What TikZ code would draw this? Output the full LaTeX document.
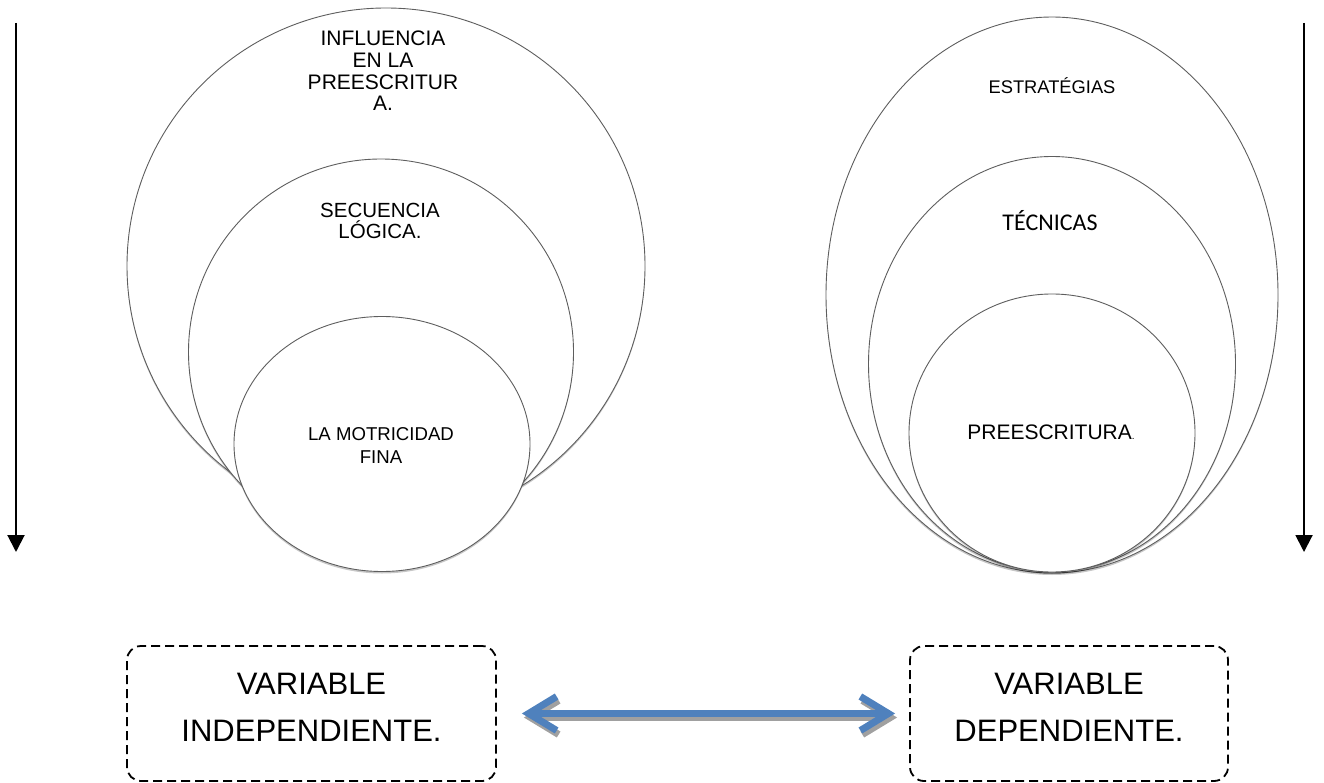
\documentclass[tikz,border=0pt]{standalone}
\usepackage{fontspec}
\setmainfont{Liberation Sans}
\newfontfamily\carlitofont{Carlito}
\usetikzlibrary{shapes.geometric,arrows.meta,shadows}
\definecolor{ringline}{HTML}{5E5E5E}
\definecolor{arrowblue}{HTML}{4F81BD}
\definecolor{arrowshade}{HTML}{A0A0A0}
\tikzset{
  ring/.style={ellipse, draw=ringline, line width=0.9pt, fill=white, inner sep=0pt,
    drop shadow={shadow xshift=0pt, shadow yshift=-2pt, opacity=0.22, fill=black}},
  lbl/.style={align=center, inner sep=0pt, text=black},
  vbox/.style={draw=black, line width=1.8pt, dash pattern=on 9pt off 5pt, rounded corners=14pt,
    align=center, inner sep=0pt, font=\fontsize{31}{47}\selectfont},
  sidearrow/.style={draw=black, line width=2pt, -{Triangle[length=17pt, width=17pt]}},
  dblarrow/.style={line width=7pt, {Straight Barb[length=28pt, width=34pt]}-{Straight Barb[length=28pt, width=34pt]}}
}
\begin{document}
\begin{tikzpicture}[x=1pt,y=-1pt]
\useasboundingbox (0,0) rectangle (1324,783);

% side arrows
\coordinate (la1) at (16,23);
\coordinate (la2) at (16,552);
\coordinate (ra1) at (1304,23);
\coordinate (ra2) at (1304,552);
\draw[sidearrow] (la1) -- (la2);
\draw[sidearrow] (ra1) -- (ra2);

% left group
\node[ring, minimum width=518pt, minimum height=516pt] (lo) at (386,266) {};
\node[ring, minimum width=385pt, minimum height=386pt] (lm) at (381,352) {};
\node[ring, minimum width=296pt, minimum height=255pt] (ls) at (382,444) {};
\node[lbl, font=\fontsize{21}{21.7}\selectfont] (tlo) at (383,71) {INFLUENCIA\\EN LA\\PREESCRITUR\\A.};
\node[lbl, font=\fontsize{20.5}{21.5}\selectfont] (tlm) at (380,221) {SECUENCIA\\LÓGICA.};
\node[lbl, font=\fontsize{18.6}{23}\selectfont] (tls) at (381,446) {LA MOTRICIDAD\\FINA};

% right group
\node[ring, minimum width=452pt, minimum height=556pt] (ro) at (1052,295) {};
\node[ring, minimum width=367pt, minimum height=415pt] (rm) at (1052,364) {};
\node[ring, minimum width=286pt, minimum height=278pt] (rs) at (1052,433) {};
\node[lbl, font=\fontsize{18.3}{20}\selectfont] (tro) at (1052,86) {ESTRATÉGIAS};
\node[lbl, font=\carlitofont\fontsize{24}{26}\selectfont] (trm) at (1050,221) {TÉCNICAS};
\node[lbl, font=\fontsize{21}{23}\selectfont] (trs) at (1051,432) {PREESCRITURA{\fontsize{10}{10}\selectfont.}};

% bottom boxes
\node[vbox, minimum width=369pt, minimum height=135pt] (vi) at (311.5,713.5) {};
\node[vbox, minimum width=318pt, minimum height=135pt] (vd) at (1069,713.5) {};
\node[lbl, font=\fontsize{31}{47}\selectfont] (tvi) at (311.5,707) {VARIABLE\\INDEPENDIENTE.};
\node[lbl, font=\fontsize{31}{47}\selectfont] (tvd) at (1069,707) {VARIABLE\\DEPENDIENTE.};

% double arrow with shadow
\draw[dblarrow, draw=arrowshade, transform canvas={shift={(2pt,-4pt)}}, shorten <=25pt, shorten >=14pt] (vi.east) -- (vd.west);
\draw[dblarrow, draw=arrowblue, shorten <=25pt, shorten >=14pt] (vi.east) -- (vd.west);
\end{tikzpicture}
\end{document}
